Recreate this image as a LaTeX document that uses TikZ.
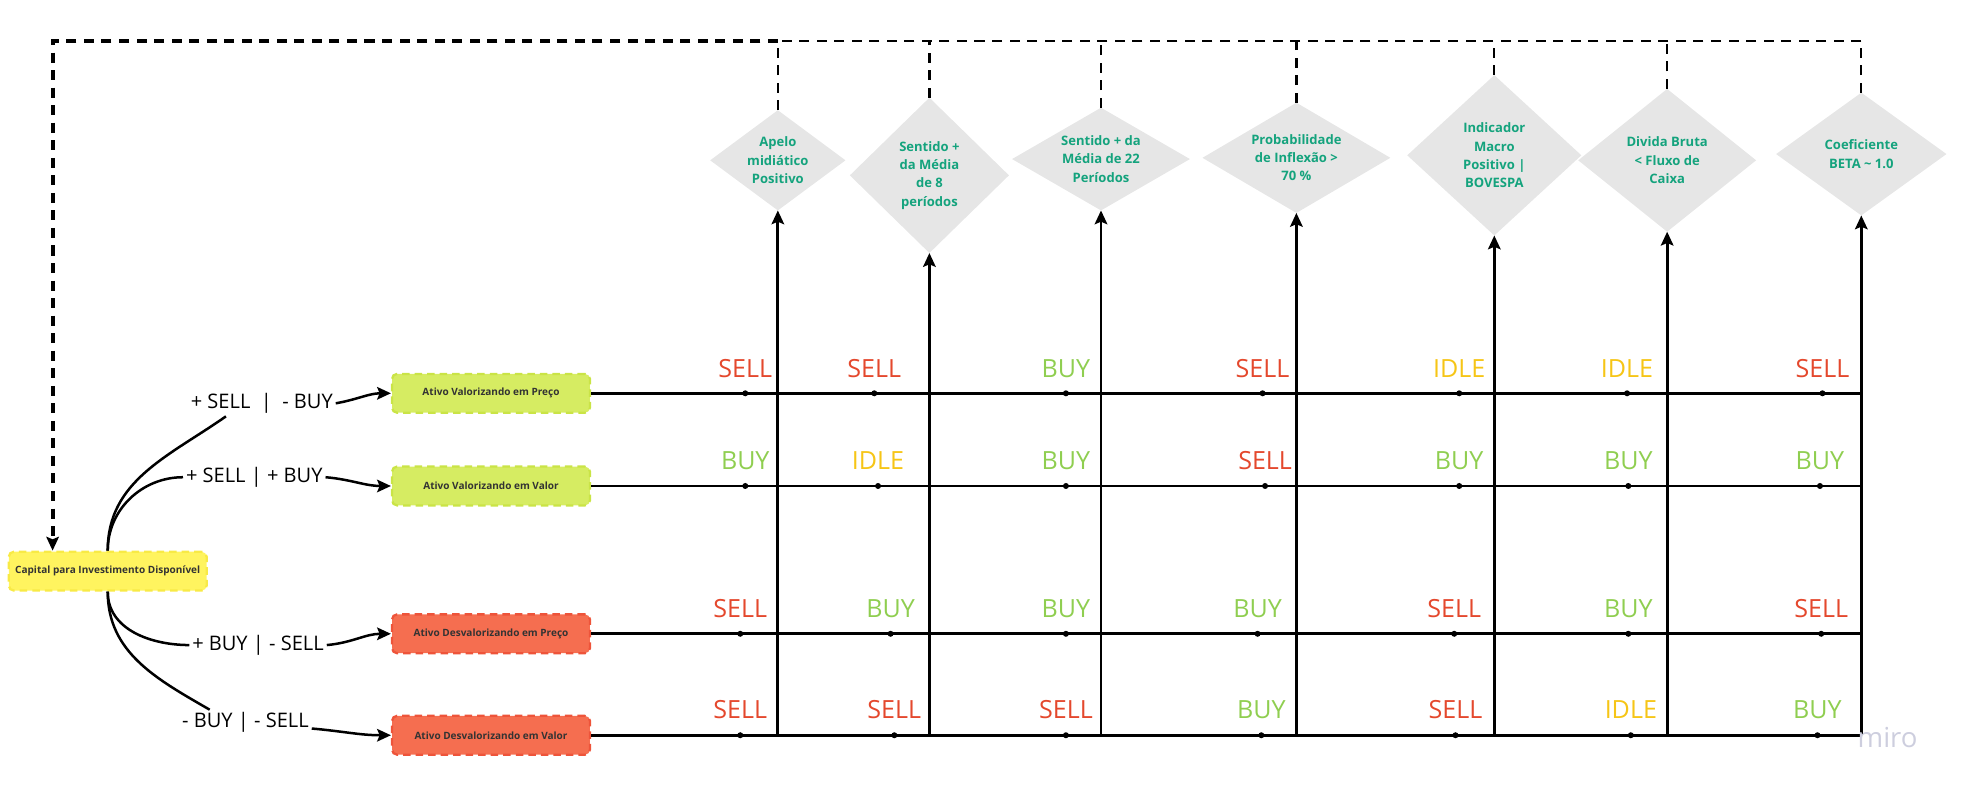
\documentclass[tikz,border=0pt]{standalone}
\usepackage{fontspec}
\setmainfont{Open Sans}
\usepackage{tikz}
\usetikzlibrary{positioning, arrows.meta, shapes.geometric, calc}

\definecolor{sellred}{RGB}{228,72,45}
\definecolor{buygreen}{RGB}{143,206,80}
\definecolor{idleyellow}{RGB}{246,197,22}
\definecolor{condteal}{RGB}{20,163,125}
\definecolor{condgray}{RGB}{230,230,230}
\definecolor{upfill}{RGB}{214,236,98}
\definecolor{updraw}{RGB}{202,228,70}
\definecolor{downfill}{RGB}{245,110,80}
\definecolor{downdraw}{RGB}{238,84,58}
\definecolor{capfill}{RGB}{255,244,95}
\definecolor{capdraw}{RGB}{248,234,70}
\definecolor{mirogray}{RGB}{205,206,222}

\tikzset{
  box/.style={rectangle, rounded corners=2pt, dashed, dash pattern=on 3pt off 2pt, line width=0.9pt,
    minimum width=79pt, minimum height=15.5pt, inner sep=0pt, font=\fontsize{4}{5}\selectfont\bfseries, text=black!80},
  upbox/.style={box, fill=upfill, draw=updraw},
  downbox/.style={box, fill=downfill, draw=downdraw},
  capbox/.style={box, fill=capfill, draw=capdraw},
  cond/.style={diamond, fill=condgray, inner sep=0pt, outer sep=0pt},
  condtext/.style={align=center, text=condteal, font=\fontsize{5.2}{7.3}\selectfont\bfseries},
  case/.style={font=\fontsize{8}{9}\selectfont, inner sep=1pt},
  sig/.style={anchor=base, font=\fontsize{10}{12}\selectfont},
  SELL/.style={text=sellred}, BUY/.style={text=buygreen}, IDLE/.style={text=idleyellow},
  flow/.style={line width=1.1pt},
  curve/.style={line width=1pt},
  tip/.style={-{Stealth[length=5.5pt, width=5pt, inset=1pt]}},
  back/.style={dashed, dash pattern=on 4pt off 3pt, line width=0.9pt},
}

\begin{document}
\begin{tikzpicture}[x=0.5pt, y=-0.5pt]
    \useasboundingbox (0,0) rectangle (1568,635);
    % Capital and the four asset states
    \node [capbox] (cap) at (86,456) {Capital para Investimento Disponível};
    \node [upbox] (a1) at (392,314) {Ativo Valorizando em Preço};
    \node [upbox] (a2) at (392,388) {Ativo Valorizando em Valor};
    \node [downbox] (a3) at (392,506) {Ativo Desvalorizando em Preço};
    \node [downbox] (a4) at (392,587) {Ativo Desvalorizando em Valor};
    % Cases on the branches
    \node [case] (c1) at (209,322) {+ SELL\ \ |\ \ - BUY};
    \node [case] (c2) at (203,381) {+ SELL | + BUY};
    \node [case] (c3) at (206,515) {+ BUY | - SELL};
    \node [case] (c4) at (196,577) {- BUY | - SELL};
    \draw [curve] (cap.north) to [out=90, in=215] (c1.200);
    \draw [curve] (cap.north) to [out=90, in=180] (c2.west);
    \draw [curve] (cap.south) to [out=-90, in=180] (c3.west);
    \draw [curve] (cap.south) to [out=-90, in=150] (c4.160);
    \draw [curve, tip] (c1.east) to [out=10, in=180] (a1.west);
    \draw [curve, tip] (c2.east) to [out=-5, in=180] (a2.west);
    \draw [curve, tip] (c3.east) to [out=5, in=180] (a3.west);
    \draw [curve, tip] (c4.355) to [out=-5, in=180] (a4.west);
    % Conditions
    \node [cond, minimum width=54pt, minimum height=40pt, label={[condtext]center:{Apelo\\midiático\\Positivo}}] (d1) at (621,128) {};
    \node [cond, minimum width=63.5pt, minimum height=62pt, label={[condtext]center:{Sentido +\\da Média\\de 8\\períodos}}] (d2) at (742,140) {};
    \node [cond, minimum width=71pt, minimum height=41pt, label={[condtext]center:{Sentido + da\\Média de 22\\Períodos}}] (d3) at (879,127) {};
    \node [cond, minimum width=75pt, minimum height=44pt, label={[condtext]center:{Probabilidade\\de Inflexão >\\70 \%}}] (d4) at (1035,126) {};
    \node [cond, minimum width=69.5pt, minimum height=64pt, label={[condtext]center:{Indicador\\Macro\\Positivo |\\BOVESPA}}] (d5) at (1193,124) {};
    \node [cond, minimum width=71pt, minimum height=57pt, label={[condtext]center:{Divida Bruta\\< Fluxo de\\Caixa}}] (d6) at (1331,128) {};
    \node [cond, minimum width=68pt, minimum height=49pt, label={[condtext]center:{Coeficiente\\BETA \textasciitilde{} 1.0}}] (d7) at (1486,123) {};
    % Grid of rows and columns
    \foreach \a in {a1,a2,a3,a4}
        \draw [flow] (\a.east) -- (\a.east -| d7.south);
    \foreach \d in {d1,d2,d3,d4,d5,d6,d7}
        \draw [flow, tip] (a4.east -| \d.south) -- (\d.south);
    % Signals
    \foreach \y/\row in {314/{595/SELL,698/SELL,851/BUY,1008/SELL,1165/IDLE,1299/IDLE,1455/SELL},
                         388/{595/BUY,701/IDLE,851/BUY,1010/SELL,1165/BUY,1300/BUY,1453/BUY},
                         506/{591/SELL,711/BUY,851/BUY,1004/BUY,1161/SELL,1300/BUY,1454/SELL},
                         587/{591/SELL,714/SELL,851/SELL,1007/BUY,1162/SELL,1302/IDLE,1451/BUY}}
        \foreach \x/\s in \row {
            \fill (\x,\y) circle [radius=1.2pt];
            \node [sig, \s] at (\x,\y-13) {\s};
        }
    % Feedback to capital
    \coordinate (loop) at (42,33);
    \foreach \d in {d1,d2,d3,d4,d5,d6,d7}
        \draw [back] (\d.north) -- (\d.north |- loop);
    \draw [back] (d7.north |- loop) -- (d1.north |- loop);
    \draw [back, line width=1.6pt, tip] (d1.north |- loop) -- (loop) -- (loop |- cap.north);
    \node [text=mirogray, font=\fontsize{11}{13}\selectfont] (miro) at (1507,589) {miro};
\end{tikzpicture}
\end{document}
